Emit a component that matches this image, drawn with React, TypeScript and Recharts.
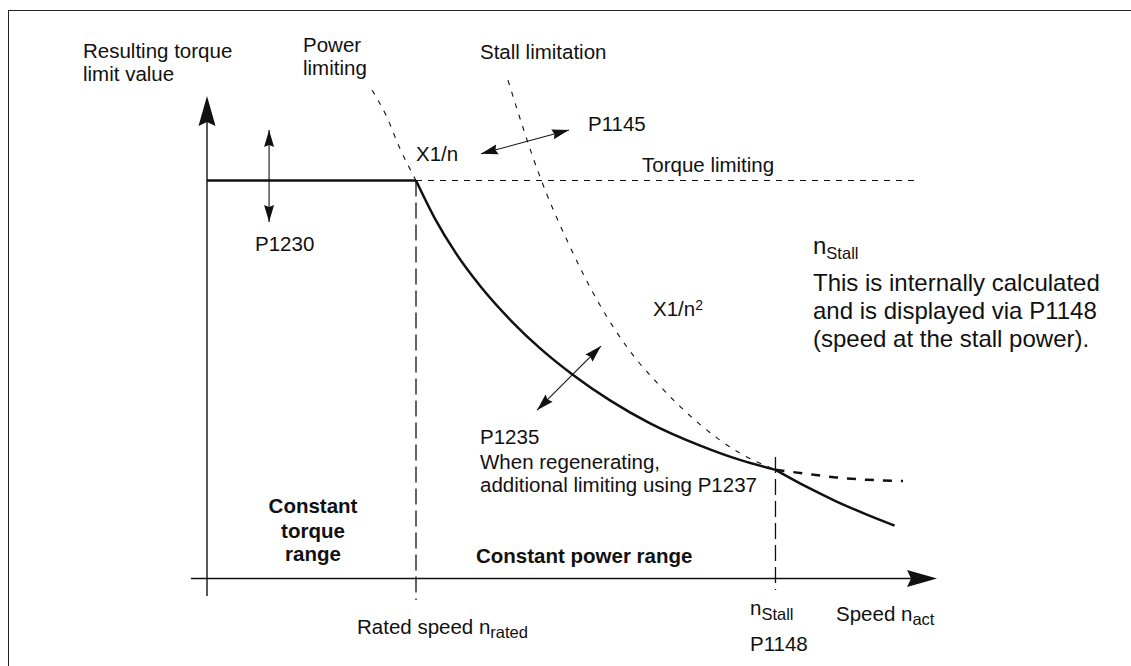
import React from 'react';
import { LineChart, Line, XAxis, YAxis, ReferenceLine } from 'recharts';

// speed n in multiples of the rated speed, torque t relative to the torque limit
const flatSpeed = [0, 1];
const flatTorque = [1, 1];

const limitSpeed = [1, 1.09, 1.19, 1.31, 1.46, 1.59, 1.75, 1.93, 2.12, 2.36, 2.55, 2.72];
const limitTorque = [1, 0.905, 0.818, 0.733, 0.645, 0.58, 0.512, 0.447, 0.39, 0.334, 0.298, 0.273];

const afterStallSpeed = [2.72, 2.87, 3.01, 3.16, 3.29];
const afterStallTorque = [0.273, 0.23, 0.194, 0.16, 0.133];

const regenSpeed = [2.72, 2.87, 3.01, 3.16, 3.33];
const regenTorque = [0.273, 0.263, 0.254, 0.248, 0.245];

const torqueLimitSpeed = [1, 3.4];
const torqueLimitTorque = [1, 1];

const powerSpeed = [0.79, 0.86, 0.92, 1];
const powerTorque = [1.227, 1.16, 1.084, 1];

const stallSpeed = [1.44, 1.59, 1.74, 1.88, 2.02, 2.16, 2.35, 2.55, 2.72];
const stallTorque = [1.252, 1.014, 0.83, 0.687, 0.574, 0.488, 0.391, 0.315, 0.273];

const ratedSpeed = 1;
const stallPointSpeed = 2.72;

const toPoints = (xs: number[], ys: number[]) => xs.map((n, i) => ({ n, t: ys[i] }));

const FONT = '"Liberation Sans", Arial, Helvetica, sans-serif';
const INK = '#111';

const headPoints = (tx: number, ty: number, fx: number, fy: number, len: number, half: number, notch: number) => {
  const d = Math.hypot(tx - fx, ty - fy) || 1;
  const ux = (tx - fx) / d;
  const uy = (ty - fy) / d;
  const bx = tx - ux * len;
  const by = ty - uy * len;
  const nx = tx - ux * (len - notch);
  const ny = ty - uy * (len - notch);
  return `${tx},${ty} ${bx - uy * half},${by + ux * half} ${nx},${ny} ${bx + uy * half},${by - ux * half}`;
};

const AxisArrow = (props: any) => {
  const { x1, y1, x2, y2 } = props;
  const d = Math.hypot(x2 - x1, y2 - y1) || 1;
  const ux = (x2 - x1) / d;
  const uy = (y2 - y1) / d;
  return (
    <g>
      <line x1={x1} y1={y1} x2={x2 - ux * 24} y2={y2 - uy * 24} stroke={INK} strokeWidth={1.4} />
      <polygon points={headPoints(x2, y2, x1, y1, 30, 8.5, 4)} fill={INK} />
    </g>
  );
};

const DoubleArrow = (props: any) => {
  const { x1, y1, x2, y2 } = props;
  return (
    <g>
      <line x1={x1} y1={y1} x2={x2} y2={y2} stroke={INK} strokeWidth={1.1} />
      <polygon points={headPoints(x2, y2, x1, y1, 17, 5, 2)} fill={INK} />
      <polygon points={headPoints(x1, y1, x2, y2, 17, 5, 2)} fill={INK} />
    </g>
  );
};

const Labels = () => (
  <svg
    width={1131}
    height={666}
    style={{ position: 'absolute', left: 0, top: 0, pointerEvents: 'none' }}
    fontFamily={FONT}
    fill={INK}
    fontSize={20.5}
  >
    <text x={83} y={57.5}>Resulting torque</text>
    <text x={83} y={80.5}>limit value</text>
    <text x={303} y={52}>Power</text>
    <text x={303} y={75}>limiting</text>
    <text x={480} y={58.5}>Stall limitation</text>
    <text x={588} y={131}>P1145</text>
    <text x={416} y={161}>X1/n</text>
    <text x={642} y={172}>Torque limiting</text>
    <text x={255} y={251}>P1230</text>

    <text x={813} y={254} fontSize={24}>
      n<tspan dy={4.5} fontSize={16.5}>Stall</tspan>
    </text>
    <text x={813} y={291} fontSize={24}>This is internally calculated</text>
    <text x={813} y={319} fontSize={24}>and is displayed via P1148</text>
    <text x={813} y={346.5} fontSize={24}>(speed at the stall power).</text>

    <text x={653} y={316}>
      X1/n<tspan dy={-6} fontSize={14}>2</tspan>
    </text>

    <text x={480} y={444}>P1235</text>
    <text x={480} y={468.5}>When regenerating,</text>
    <text x={480} y={492}>additional limiting using P1237</text>

    <text x={313} y={513} fontWeight="bold" textAnchor="middle">Constant</text>
    <text x={313} y={537.5} fontWeight="bold" textAnchor="middle">torque</text>
    <text x={313} y={561} fontWeight="bold" textAnchor="middle">range</text>
    <text x={476} y={563} fontWeight="bold">Constant power range</text>

    <text x={357} y={634}>
      Rated speed n<tspan dy={4} fontSize={16.5}>rated</tspan>
    </text>
    <text x={750} y={615}>
      n<tspan dy={4.5} fontSize={16.5}>Stall</tspan>
    </text>
    <text x={750} y={651}>P1148</text>
    <text x={836} y={620.5}>
      Speed n<tspan dy={4.5} fontSize={16.5}>act</tspan>
    </text>
  </svg>
);

const App: React.FC = () => {
  return (
    <div style={{ position: 'absolute', left: 0, top: 0, width: 1131, height: 666, background: '#fff' }}>
      <div
        style={{
          position: 'absolute',
          left: 8,
          top: 10,
          width: 1123,
          height: 656,
          borderTop: '1.5px solid #222',
          borderLeft: '1.5px solid #222',
          boxSizing: 'border-box',
        }}
      />
      <div style={{ position: 'absolute', left: 0, top: 0 }}>
        <LineChart
          width={1131}
          height={666}
          margin={{ top: 61.1, right: 192.5, bottom: 47.7, left: 186.1 }}
        >
          <XAxis type="number" dataKey="n" domain={[-0.1, 3.5]} allowDataOverflow hide />
          <YAxis type="number" dataKey="t" domain={[-0.1, 1.3]} allowDataOverflow hide />

          {/* axes with arrow heads */}
          <ReferenceLine
            segment={[{ x: -0.077, y: 0 }, { x: 3.493, y: 0 }]}
            ifOverflow="visible"
            shape={AxisArrow}
          />
          <ReferenceLine
            segment={[{ x: 0, y: -0.044 }, { x: 0, y: 1.212 }]}
            ifOverflow="visible"
            shape={AxisArrow}
          />

          {/* rated speed and stall speed markers */}
          <ReferenceLine
            segment={[{ x: ratedSpeed, y: 1 }, { x: ratedSpeed, y: -0.054 }]}
            ifOverflow="visible"
            stroke={INK}
            strokeWidth={1.3}
            strokeDasharray="16 6"
          />
          <ReferenceLine
            segment={[{ x: stallPointSpeed, y: 0.305 }, { x: stallPointSpeed, y: -0.029 }]}
            ifOverflow="visible"
            stroke={INK}
            strokeWidth={1.3}
            strokeDasharray="16 6"
          />

          {/* parameter arrows */}
          <ReferenceLine
            segment={[{ x: 0.297, y: 1.127 }, { x: 0.297, y: 0.896 }]}
            ifOverflow="visible"
            shape={DoubleArrow}
          />
          <ReferenceLine
            segment={[{ x: 1.311, y: 1.067 }, { x: 1.732, y: 1.127 }]}
            ifOverflow="visible"
            shape={DoubleArrow}
          />
          <ReferenceLine
            segment={[{ x: 1.579, y: 0.423 }, { x: 1.885, y: 0.584 }]}
            ifOverflow="visible"
            shape={DoubleArrow}
          />

          <Line
            data={toPoints(torqueLimitSpeed, torqueLimitTorque)}
            dataKey="t"
            type="linear"
            stroke={INK}
            strokeWidth={1.2}
            strokeDasharray="6 6"
            dot={false}
            activeDot={false}
            isAnimationActive={false}
          />
          <Line
            data={toPoints(powerSpeed, powerTorque)}
            dataKey="t"
            type="monotone"
            stroke={INK}
            strokeWidth={1.1}
            strokeDasharray="5 7"
            dot={false}
            activeDot={false}
            isAnimationActive={false}
          />
          <Line
            data={toPoints(stallSpeed, stallTorque)}
            dataKey="t"
            type="monotone"
            stroke={INK}
            strokeWidth={1.1}
            strokeDasharray="5 7"
            dot={false}
            activeDot={false}
            isAnimationActive={false}
          />
          <Line
            data={toPoints(regenSpeed, regenTorque)}
            dataKey="t"
            type="monotone"
            stroke={INK}
            strokeWidth={2.5}
            strokeDasharray="9 9"
            dot={false}
            activeDot={false}
            isAnimationActive={false}
          />
          <Line
            data={toPoints(flatSpeed, flatTorque)}
            dataKey="t"
            type="linear"
            stroke={INK}
            strokeWidth={2.7}
            dot={false}
            activeDot={false}
            isAnimationActive={false}
          />
          <Line
            data={toPoints(limitSpeed, limitTorque)}
            dataKey="t"
            type="monotone"
            stroke={INK}
            strokeWidth={2.5}
            dot={false}
            activeDot={false}
            isAnimationActive={false}
          />
          <Line
            data={toPoints(afterStallSpeed, afterStallTorque)}
            dataKey="t"
            type="monotone"
            stroke={INK}
            strokeWidth={2.5}
            dot={false}
            activeDot={false}
            isAnimationActive={false}
          />
        </LineChart>
      </div>
      <Labels />
    </div>
  );
};

export default App;
